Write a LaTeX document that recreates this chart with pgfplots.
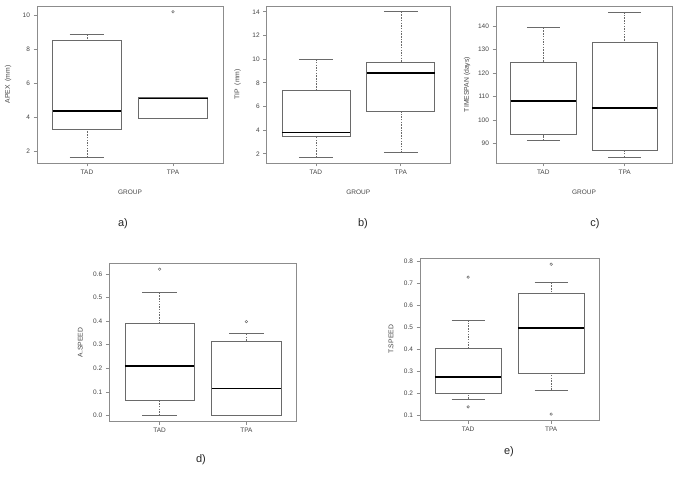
\documentclass[border=0pt]{standalone}
\usepackage{fontspec}
\setmainfont{Liberation Sans}
\usepackage{pgfplots}
\pgfplotsset{compat=1.18}
\usepgfplotslibrary{statistics}
\definecolor{boxgray}{HTML}{6A6A6A}
\definecolor{framegray}{HTML}{8C8C8C}
\definecolor{txtgray}{HTML}{444444}
\pgfplotsset{
  rbox/.style={
    scale only axis, anchor=south west,
    xmin=0.42, xmax=2.58, xtick={1,2}, xticklabels={TAD,TPA},
    tick align=outside, tick pos=left,
    major tick length=3.5pt,
    every tick/.style={framegray, line width=0.6pt},
    axis line style={framegray, line width=0.7pt},
    tick label style={font=\fontsize{6.5}{7.5}\selectfont, text=txtgray},
    /pgf/number format/assume math mode=true,
    every axis y label/.style={at={([xshift=-29pt]axis description cs:0,0.5)}, rotate=90, anchor=center, font=\fontsize{6.8}{7.5}\selectfont, text=txtgray},
    every axis x label/.style={at={([yshift=-29pt]axis description cs:0.5,0)}, anchor=center, font=\fontsize{6.5}{7.5}\selectfont, text=txtgray},
    boxplot/draw direction=y,
    boxplot/every median/.style={black, line width=1.6pt},
    boxplot/draw/lower whisker/.code={%
      \draw[boxgray, line width=0.5pt, dash pattern=on 1.5pt off 1.2pt]
        (boxplot box cs:\pgfplotsboxplotvalue{lower whisker},0.5) -- (boxplot box cs:\pgfplotsboxplotvalue{lower quartile},0.5);
      \draw[boxgray, line width=0.7pt]
        (boxplot whisker cs:\pgfplotsboxplotvalue{lower whisker},0) -- (boxplot whisker cs:\pgfplotsboxplotvalue{lower whisker},1);
    },
    boxplot/draw/upper whisker/.code={%
      \draw[boxgray, line width=0.5pt, dash pattern=on 1.5pt off 1.2pt]
        (boxplot box cs:\pgfplotsboxplotvalue{upper whisker},0.5) -- (boxplot box cs:\pgfplotsboxplotvalue{upper quartile},0.5);
      \draw[boxgray, line width=0.7pt]
        (boxplot whisker cs:\pgfplotsboxplotvalue{upper whisker},0) -- (boxplot whisker cs:\pgfplotsboxplotvalue{upper whisker},1);
    },
  },
  outl/.style={only marks, mark=o, mark size=1.3pt, boxgray, mark options={line width=0.5pt}},
}
% draw position, lower whisker, lower quartile, median, upper quartile, upper whisker
\newcommand\rbp[6]{\addplot[boxgray, line width=0.7pt, boxplot prepared={draw position=#1, lower whisker=#2, lower quartile=#3, median=#4, upper quartile=#5, upper whisker=#6, box extend=0.8, whisker extend=0.4}] coordinates {};}
\begin{document}
\begin{tikzpicture}
\path[use as bounding box] (0,0) rectangle (685pt,480pt);
% a)
\begin{axis}[rbox, at={(37pt,317pt)}, width=186pt, height=157pt,
  ymin=1.33, ymax=10.54, ytick={2,4,6,8,10},
  ylabel={APEX\ \ (mm)}, xlabel={GROUP}]
\rbp{1}{1.67}{3.33}{4.38}{8.53}{8.87}
\rbp{2}{3.92}{3.92}{5.12}{5.20}{5.20}
\addplot[outl] coordinates {(2,10.2)};
\end{axis}
% b)
\begin{axis}[rbox, at={(266.7pt,317pt)}, width=183.3pt, height=157pt,
  ymin=1.22, ymax=14.49, ytick={2,4,...,14},
  ylabel={TIP\ \ (mm)}, xlabel={GROUP}]
\rbp{1}{1.71}{3.49}{3.80}{7.35}{10.0}
\rbp{2}{2.08}{5.55}{8.81}{9.74}{14.0}
\end{axis}
% c)
\begin{axis}[rbox, at={(496pt,317pt)}, width=176pt, height=157pt,
  ymin=81.6, ymax=148.6, ytick={90,100,...,140},
  ylabel={TIMESPAN (days)}, xlabel={GROUP}]
\rbp{1}{91.3}{93.7}{108.1}{124.7}{139.3}
\rbp{2}{84.1}{87.1}{105.1}{133.2}{146.0}
\end{axis}
% d)
\begin{axis}[rbox, at={(109.3pt,58.7pt)}, width=187.4pt, height=158pt,
  ymin=-0.025, ymax=0.645, ytick={0,0.1,...,0.6},
  yticklabel style={/pgf/number format/.cd, fixed, fixed zerofill, precision=1},
  ylabel={A.SPEED}]
\rbp{1}{0.0}{0.063}{0.209}{0.389}{0.52}
\rbp{2}{0.0}{0.0}{0.114}{0.313}{0.346}
\addplot[outl] coordinates {(1,0.62) (2,0.398)};
\end{axis}
% e)
\begin{axis}[rbox, at={(420pt,60pt)}, width=179.3pt, height=161.7pt,
  ymin=0.077, ymax=0.815, ytick={0.1,0.2,...,0.8},
  yticklabel style={/pgf/number format/.cd, fixed, fixed zerofill, precision=1},
  ylabel={T.SPEED}]
\rbp{1}{0.173}{0.199}{0.274}{0.405}{0.533}
\rbp{2}{0.214}{0.291}{0.496}{0.654}{0.704}
\addplot[outl] coordinates {(1,0.729) (1,0.137) (2,0.788) (2,0.104)};
\end{axis}
\begin{scope}[every node/.style={font=\fontsize{11}{13}\selectfont, text=black!85}]
\node at (123pt,256pt) {a)};
\node at (363pt,256pt) {b)};
\node at (595pt,256pt) {c)};
\node at (201pt,20pt) {d)};
\node at (509pt,28pt) {e)};
\end{scope}
\end{tikzpicture}
\end{document}
